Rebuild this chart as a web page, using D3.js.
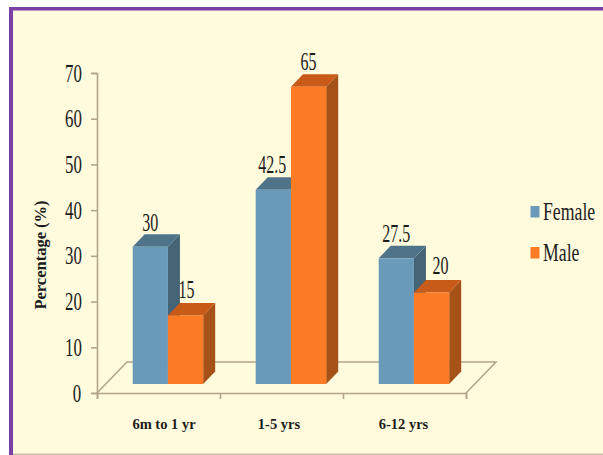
<!DOCTYPE html>
<html><head><meta charset="utf-8">
<script src="https://cdnjs.cloudflare.com/ajax/libs/d3/7.8.5/d3.min.js"></script>
<style>html,body{margin:0;padding:0;background:#fff}svg{display:block}text{font-family:"Liberation Serif",serif;fill:#1c1c1c}</style>
</head><body><svg id="c" width="603" height="455"></svg>
<script>
const categories=["6m to 1 yr","1-5 yrs","6-12 yrs"];
const seriesNames=["Female","Male"];
const female=[30,42.5,27.5];
const male=[15,65,20];
const yTicks=[0,10,20,30,40,50,60,70];
const labels={female:["30","42.5","27.5"],male:["15","65","20"]};

const svg=d3.select("#c");
// page + frame
svg.append("rect").attr("x",10).attr("y",7).attr("width",593).attr("height",447).attr("fill","#FFFBDC");
svg.append("rect").attr("x",9).attr("y",7).attr("width",594).attr("height",3.5).attr("fill","#7B3FA6");
svg.append("rect").attr("x",9).attr("y",7).attr("width",4).attr("height",448).attr("fill","#7B3FA6");
svg.append("rect").attr("x",13).attr("y",453.5).attr("width",590).attr("height",1.5).attr("fill","#C9BDA5");

const axisC="#B5A48C", dx=30, dy=31, bx=12, by=12.5;
const y=d3.scaleLinear().domain([0,70]).range([393,73]);
const x=d3.scaleBand().domain(categories).range([97,466]);
const xs=d3.scaleBand().domain(seriesNames).range([0,70.5]);
const barBase=384, h=v=>y(0)-y(v), barX=(c,s)=>x(c)+35.7+xs(s);

// floor
const floor=svg.append("g").attr("fill","none").attr("stroke",axisC).attr("stroke-width",1.6);
floor.append("path").attr("d",d3.line()([[x.range()[0],y(0)],[x.range()[0]+dx,y(0)-dy],[x.range()[1]+dx,y(0)-dy],[x.range()[1],y(0)]]));

// axes
const gy=svg.append("g").attr("transform","translate(97,0)");
gy.call(d3.axisLeft(y).tickValues(yTicks).tickSize(6).tickFormat(""));
gy.selectAll("path,line").attr("stroke",axisC).attr("stroke-width",1.6);
const gx=svg.append("g").attr("transform","translate(0,393)");
gx.call(d3.axisBottom(d3.scalePoint().domain(d3.range(4)).range(x.range())).tickSize(6).tickFormat(""));
gx.selectAll("path,line").attr("stroke",axisC).attr("stroke-width",1.6);

yTicks.forEach(t=>{
  svg.append("text").attr("transform",`translate(${t===0?77:73.5},${y(t)+8.5}) scale(0.66,1)`)
    .attr("text-anchor","middle").attr("font-size",25.5).text(t);
});
const catNudge=[5.5,-2.5,-1];
categories.forEach((c,i)=>{
  svg.append("text").attr("x",x(c)+x.bandwidth()/2+catNudge[i]).attr("y",429).attr("text-anchor","middle")
    .attr("font-size",14.5).attr("font-weight","bold").text(c);
});
svg.append("text").attr("transform","translate(46,255) rotate(-90)").attr("text-anchor","middle")
  .attr("font-size",16.5).attr("font-weight","bold").text("Percentage (%)");

// bars
const palette={Female:{f:"#6A9ABA",t:"#4F7489",s:"#456576"},Male:{f:"#FD7B25",t:"#C95B18",s:"#A65117"}};
const labelNudge={Female:[[0,0],[-1,-1],[0,0]],Male:[[1,-1],[0,-1],[9,-2.5]]};
function bar(c,s,v,lab,n){
  const p=palette[s],x0=barX(c,s),x1=x0+xs.bandwidth(),top=barBase-h(v);
  const g=svg.append("g");
  g.append("path").attr("fill",p.s).attr("d",d3.line()([[x1,top],[x1+bx,top-by],[x1+bx,barBase-by],[x1,barBase]]));
  g.append("path").attr("fill",p.t).attr("d",d3.line()([[x0,top],[x0+bx,top-by],[x1+bx,top-by],[x1,top]]));
  g.append("rect").attr("x",x0).attr("y",top).attr("width",xs.bandwidth()).attr("height",barBase-top).attr("fill",p.f);
  svg.append("text").attr("transform",`translate(${(x0+x1)/2+n[0]},${top-by-3.5+n[1]}) scale(0.64,1)`)
    .attr("text-anchor","middle").attr("font-size",25).text(lab);
}
categories.forEach((c,i)=>{bar(c,"Female",female[i],labels.female[i],labelNudge.Female[i]);});
categories.forEach((c,i)=>{bar(c,"Male",male[i],labels.male[i],labelNudge.Male[i]);});

// legend
const ly=d3.scalePoint().domain(seriesNames).range([211.5,252.5]);
seriesNames.forEach(s=>{
  svg.append("rect").attr("x",530.5).attr("y",ly(s)-5.5).attr("width",9).attr("height",11.5).attr("fill",palette[s].f);
  svg.append("text").attr("transform",`translate(543,${ly(s)+8}) scale(0.71,1)`).attr("font-size",25).text(s);
});
</script></body></html>
